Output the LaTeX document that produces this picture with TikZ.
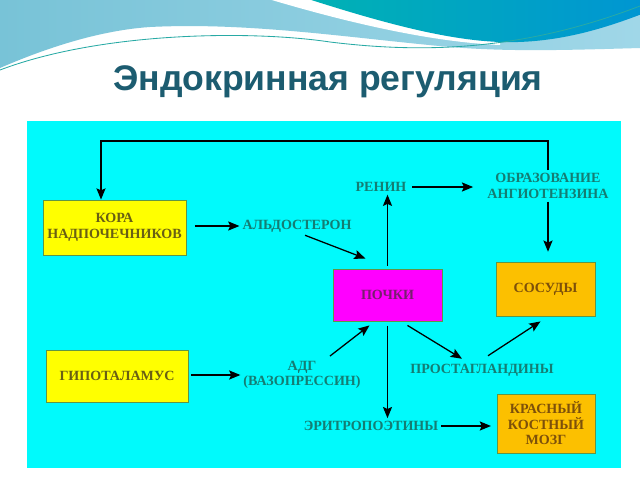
\documentclass[tikz,border=0pt]{standalone}
\usepackage{fontspec}
\setmainfont{Liberation Serif}
\newfontfamily\headfont{Liberation Sans}
\usetikzlibrary{arrows.meta,calc}
\definecolor{panelcyan}{RGB}{0,250,252}
\definecolor{glandyellow}{RGB}{255,255,0}
\definecolor{kidneymag}{RGB}{255,0,255}
\definecolor{targetorange}{RGB}{252,192,0}
\definecolor{boxedge}{RGB}{95,150,70}
\definecolor{hormonetext}{RGB}{20,125,115}
\definecolor{glandtext}{RGB}{105,95,20}
\definecolor{kidneytext}{RGB}{120,30,110}
\definecolor{targettext}{RGB}{125,80,10}
\definecolor{titlecol}{RGB}{28,92,112}
\definecolor{wavelight}{RGB}{120,195,215}
\definecolor{wavepale}{RGB}{160,215,232}
\definecolor{wavedeep}{RGB}{0,150,210}
\definecolor{waveteal}{RGB}{0,178,180}
\definecolor{waveline}{RGB}{40,170,165}
\tikzset{
  organ/.style={draw=boxedge, line width=0.6pt, align=center, inner sep=0pt,
    font=\bfseries\fontsize{10}{11}\selectfont},
  hormone/.style={text=hormonetext, align=center, inner sep=2pt,
    font=\bfseries\fontsize{10}{11}\selectfont},
  flow/.style={-{Stealth[length=8pt,width=6.5pt,inset=1.5pt]}, line width=0.9pt}
}
\begin{document}
\begin{tikzpicture}[x=0.025cm,y=-0.025cm]
\useasboundingbox (0,0) rectangle (640,480);
\fill[white] (0,0) rectangle (640,480);
% Header waves
\shade[left color=wavelight, right color=wavepale]
  (0,0) -- (640,0) -- (640,48) .. controls (570,50) and (510,52) .. (450,47)
  .. controls (350,38) and (250,22) .. (150,27) .. controls (90,31) and (30,55) .. (0,68) -- cycle;
\fill[white]
  (265,-2) .. controls (345,22) and (430,42) .. (500,45) -- (500,-2) -- cycle;
\shade[left color=waveteal, right color=wavedeep]
  (305,-2) .. controls (380,22) and (445,40) .. (500,42)
  .. controls (560,44) and (610,26) .. (642,14) -- (642,-2) -- cycle;
\draw[waveline, line width=0.6pt]
  (0,70) .. controls (100,32) and (250,30) .. (330,42)
  .. controls (420,53) and (520,52) .. (640,6);
\node[font=\headfont\bfseries\fontsize{25.3}{30}\selectfont, text=titlecol, anchor=base]
  (title) at (328,91) {Эндокринная регуляция};
% Panel
\fill[panelcyan] (27,121) rectangle (621,468);
% Organs
\node[organ, fill=glandyellow, text=glandtext, minimum width=143*0.025cm, minimum height=55*0.025cm]
  (kora) at (114.5,227.5) {КОРА\\НАДПОЧЕЧНИКОВ};
\node[organ, fill=glandyellow, text=glandtext, minimum width=142*0.025cm, minimum height=52*0.025cm]
  (gipo) at (117,376) {ГИПОТАЛАМУС};
\node[organ, fill=kidneymag, text=kidneytext, minimum width=109*0.025cm, minimum height=52*0.025cm]
  (pochki) at (387.5,295) {ПОЧКИ};
\node[organ, fill=targetorange, text=targettext, minimum width=99*0.025cm, minimum height=54*0.025cm]
  (sosudy) at (545.5,289) {СОСУДЫ};
\node[organ, fill=targetorange, text=targettext, minimum width=98*0.025cm, minimum height=59*0.025cm]
  (mozg) at (546,423.5) {КРАСНЫЙ\\КОСТНЫЙ\\МОЗГ};
% Hormones
\node[hormone] (aldo) at (297,226) {АЛЬДОСТЕРОН};
\node[hormone] (renin) at (381,187) {РЕНИН};
\node[hormone] (obraz) at (548,186) {ОБРАЗОВАНИЕ\\АНГИОТЕНЗИНА};
\node[hormone] (adg) at (302,375) {АДГ\\(ВАЗОПРЕССИН)};
\node[hormone] (prosta) at (482,370) {ПРОСТАГЛАНДИНЫ};
\node[hormone] (eritro) at (371,426) {ЭРИТРОПОЭТИНЫ};
\coordinate (fb) at (101,141);
% Connectors
\draw[flow] (obraz.north) |- (fb) -- (fb |- kora.north);
\draw[flow, shorten <=6pt] (kora.east |- aldo) -- (aldo.west);
\draw[flow] ($(aldo.south)+(8,0)$) -- ($(pochki.north)+(-22,-10)$);
\draw[flow, shorten <=2pt] (pochki.north) -- (pochki.north |- renin.south);
\draw[flow, shorten <=2pt, shorten >=8pt] (renin.east) -- (renin.east -| obraz.west);
\draw[flow, shorten >=7pt] (obraz.south) -- (obraz.south |- sosudy.north);
\draw[flow, shorten <=2pt] (gipo.east |- adg) -- (adg.west);
\draw[flow] ($(adg.north)+(28,-2)$) -- ($(pochki.south)+(-18,4)$);
\draw[flow] ($(pochki.south)+(20,4)$) -- ($(prosta.north)+(-20,-2)$);
\draw[flow] ($(prosta.north)+(6,-5)$) -- ($(sosudy.south)+(-5,5)$);
\draw[flow, shorten <=3pt] (pochki.south) -- (pochki.south |- eritro.north);
\draw[flow, shorten >=4pt] (eritro.east) -- (eritro.east -| mozg.west);
\end{tikzpicture}
\end{document}
